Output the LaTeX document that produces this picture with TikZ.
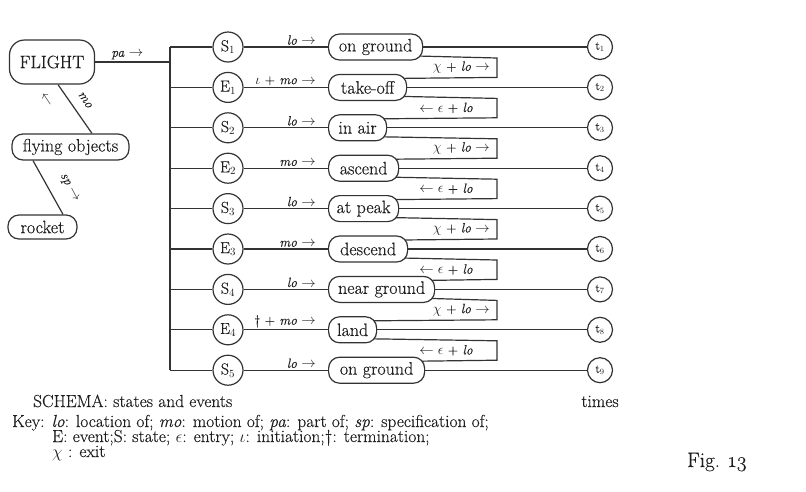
\documentclass[tikz,border=0pt]{standalone}
\usepackage{fontspec}
\setmainfont{Latin Modern Roman}[FakeBold=0.3]
\usetikzlibrary{calc}
\pgfdeclarelayer{bg}
\pgfsetlayers{bg,main}
\begin{document}
\begin{tikzpicture}[x=1pt,y=-1pt,
  every node/.style={text=black!88},
  ln/.style={line width=1.2pt, draw=black!80},
  rbox/.style={draw=black!80, line width=1.2pt, fill=white, rounded corners=11pt, minimum height=26pt, inner sep=0pt, font=\fontsize{18}{19}\selectfont},
  sbox/.style={rbox, anchor=west},
  circ/.style={circle, draw=black!80, line width=1.2pt, fill=white, minimum size=30pt, inner sep=0pt, font=\fontsize{16}{17}\selectfont},
  tcirc/.style={circle, draw=black!80, line width=1.2pt, fill=white, minimum size=25pt, inner sep=0pt, font=\fontsize{12}{13}\selectfont},
  small/.style={font=\fontsize{13.5}{14}\selectfont, inner sep=1pt},
  rlbl/.style={small, anchor=south east},
  txt/.style={font=\fontsize{17.4}{18}\selectfont, anchor=base west, inner sep=0pt, text height=11pt, text depth=3pt},
]
\useasboundingbox (0,0) rectangle (806,491);

% left hierarchy
\node[rbox, rounded corners=15pt, minimum width=85pt, minimum height=44pt] (flight) at (52,62) {FLIGHT};
\node[rbox, minimum width=117pt] (fly) at (70.5,147) {flying objects};
\node[rbox, minimum width=69pt, minimum height=24pt] (rocket) at (42.5,227) {rocket};
\coordinate (j0) at (170,62);

% rows
\foreach \lab/\rl/\st/\w [count=\k] in {
  S$_1$/\textit{lo} $\rightarrow$/on ground/94,
  E$_1$/$\iota$ + \textit{mo} $\rightarrow$/take-off/78,
  S$_2$/\textit{lo} $\rightarrow$/in air/58,
  E$_2$/\textit{mo} $\rightarrow$/ascend/70,
  S$_3$/\textit{lo} $\rightarrow$/at peak/70,
  E$_3$/\textit{mo} $\rightarrow$/descend/79,
  S$_4$/\textit{lo} $\rightarrow$/near ground/106,
  E$_4$/\dag\ + \textit{mo} $\rightarrow$/land/48,
  S$_5$/\textit{lo} $\rightarrow$/on ground/96}{
  \pgfmathsetmacro\yy{47+40.4*(\k-1)}
  \node[circ] (c\k) at (228,\yy) {\lab};
  \node[sbox, minimum width=\w pt] (b\k) at (328,\yy) {\st};
  \node[tcirc] (t\k) at (600,\yy) {t$_{\k}$};
  \coordinate (j\k) at (170,\yy);
  \node[rlbl] (rl\k) at ($(b\k.west)+(-11,-1)$) {\rl};
}

% loop labels
\foreach \k in {1,...,8}{
  \pgfmathsetmacro\ym{47+40.4*(\k-1)+20.5}
  \ifodd\k
    \node[small, anchor=east] (q\k) at (491,\ym) {$\chi$ + \textit{lo} $\rightarrow$};
  \else
    \node[small] (q\k) at (446,\ym) {$\leftarrow\epsilon$ + \textit{lo}};
  \fi
}

% labels of the slanted links
\node[small, rotate=-56] (mo) at (85,100) {\textit{mo}};
\node[small, rotate=-56] (moarr) at (46,100) {$\leftarrow$};
\node[small, rotate=-62] (sp) at (69,188) {\textit{sp} $\rightarrow$};

\begin{pgfonlayer}{bg}
  \draw[ln] (flight.east) -- (j0) node[small, pos=0.43, above=1pt] (pa) {\textit{pa} $\rightarrow$};
  \draw[ln] (j1) -- (j9);
  \foreach \k in {1,...,9}{
    \draw[ln] (j\k) -- (c\k);
    \draw[ln] (c\k) -- (b\k);
    \draw[ln] (b\k) -- (t\k);
  }
  \foreach \k in {1,...,8}{
    \pgfmathtruncatemacro\n{\k+1}
    \pgfmathsetmacro\ya{47+40.4*(\k-1)+11}
    \pgfmathsetmacro\yb{47+40.4*\k-10}
    \draw[ln] ($(b\k.east)+(-6,9)$) -- (497,\ya) -- (497,\yb) -- ($(b\n.east)+(-6,-9)$);
  }
  \draw[ln] ($(flight.south)+(6,0)$) -- ($(fly.north)+(21.5,0)$);
  \draw[ln] ($(fly.south)+(-37.5,0)$) -- ($(rocket.north)+(20.5,0)$);
\end{pgfonlayer}

% bottom texts
\node[txt] (schema) at (33,407) {SCHEMA: states and events};
\node[txt, anchor=base] (times) at (600,407) {times};
\node[txt] (key1) at (12,427) {Key: \textit{lo}: location of; \textit{mo}: motion of; \textit{pa}: part of; \textit{sp}: specification of;};
\node[txt] (key2) at (52,442) {E: event;S: state; $\epsilon$: entry; $\iota$: initiation;\dag: termination;};
\node[txt] (key3) at (52,457) {$\chi$ : exit};
\node[txt, font=\fontsize{21}{24}\selectfont, text height=16pt] (fig) at (687,467) {Fig. \oldstylenums{13}};
\end{tikzpicture}
\end{document}
